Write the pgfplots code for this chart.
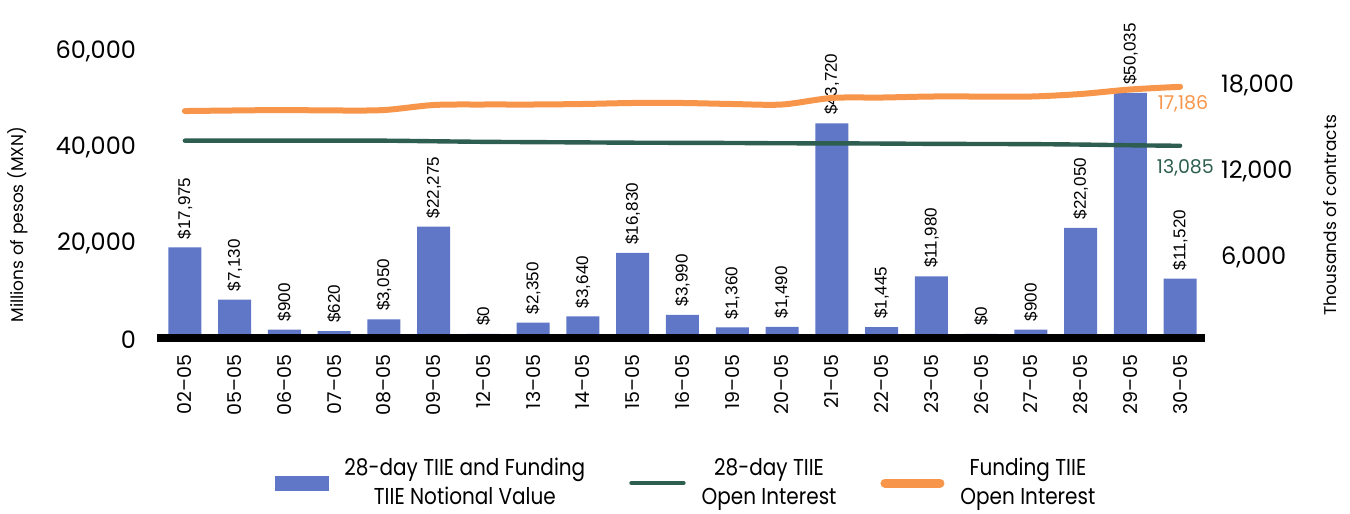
\documentclass[border=0pt]{standalone}
\usepackage{pgfplots}
\pgfplotsset{compat=1.18}
\usepackage{pgfplotstable}
\usepackage{fontspec}
\setmainfont{Poppins}
\newfontfamily\lab{Liberation Sans}
\newfontfamily\leg[FakeStretch=0.87]{Poppins}
\definecolor{barblue}{HTML}{6076C6}
\definecolor{lgreen}{HTML}{2D5E50}
\definecolor{lorange}{HTML}{F7954A}

\pgfplotstableread{
x v g o
0 17975 13440 15500
1 7130 13440 15540
2 900 13440 15570
3 620 13440 15540
4 3050 13440 15570
5 22275 13400 15920
6 0 13360 15955
7 2350 13340 15955
8 3640 13320 15990
9 16830 13300 16060
10 3990 13290 16060
11 1360 13280 15990
12 1490 13260 15955
13 43720 13255 16410
14 1445 13240 16440
15 11980 13220 16510
16 0 13210 16510
17 900 13200 16510
18 22050 13170 16685
19 50035 13120 17000
20 11520 13085 17186
}\data

\begin{document}
\begin{tikzpicture}
\path[use as bounding box] (-78.5pt,-90pt) rectangle (596.5pt,167pt);
\begin{axis}[
  at={(0,0)}, anchor=south west,
  scale only axis, width=524pt, height=151.75pt,
  xmin=-0.56, xmax=20.5, ymin=0, ymax=63000,
  axis line style={draw=none}, tick style={draw=none},
  clip=false,
  xtick={0,...,20},
  xticklabels={02--05,05--05,06--05,07--05,08--05,09--05,12--05,13--05,14--05,15--05,16--05,19--05,20--05,21--05,22--05,23--05,26--05,27--05,28--05,29--05,30--05},
  xticklabel style={rotate=90, anchor=east, font=\fontsize{9.5}{11}\selectfont, xshift=-7pt},
  ytick={0,20000,40000,60000},
  scaled y ticks=false,
  yticklabel style={font=\fontsize{12}{14}\selectfont, xshift=-7pt, yshift=-3pt},
  /pgf/number format/assume math mode=true,
  /pgf/number format/1000 sep={,},
  ylabel={Millions of pesos (MXN)},
  ylabel style={at={(axis description cs:-0.1326,0.36)}, anchor=center, font=\fontsize{8.5}{10}\selectfont},
]
\addplot[ybar, bar width=16.5pt, fill=barblue, draw=none,
  point meta=explicit,
  nodes near coords={\$\pgfmathprintnumber{\pgfplotspointmeta}},
  nodes near coords style={rotate=90, anchor=west, inner xsep=4pt, inner ysep=0pt, font=\lab\fontsize{8.5}{10}\selectfont, text=black}
] table[x=x, y=v, meta=v] {\data};
\draw[black, line width=4pt] ([yshift=-2pt]rel axis cs:0,0) -- ([yshift=-2pt]rel axis cs:1,0);
\end{axis}
\begin{axis}[
  at={(0,0)}, anchor=south west,
  scale only axis, width=524pt, height=151.75pt,
  xmin=-0.56, xmax=20.5, ymin=0, ymax=21100,
  axis x line=none, axis y line*=right,
  y axis line style={draw=none}, tick style={draw=none},
  clip=false,
  ytick={6000,12000,18000},
  scaled y ticks=false,
  yticklabel style={font=\fontsize{12}{14}\selectfont, xshift=4.5pt, yshift=-5pt},
  /pgf/number format/assume math mode=true,
  /pgf/number format/1000 sep={,},
  ylabel={Thousands of contracts},
  ylabel style={at={(axis description cs:1.1193,0.392)}, anchor=center, font=\fontsize{8.5}{10}\selectfont},
  legend columns=3,
  legend cell align=center,
  legend style={at={(0.5,-0.491)}, anchor=center, xshift=3pt, draw=none, fill=none,
    font=\leg\fontsize{11.5}{14.5}\selectfont,
    nodes={align=center},
    /tikz/every odd column/.append style={column sep=6pt},
    /tikz/every even column/.append style={column sep=20pt}},
]
\addlegendimage{legend image code/.code={\fill[barblue] (0pt,-3.5pt) rectangle (26.5pt,3.5pt);}}
\addlegendentry{28-day TIIE and Funding\\TIIE Notional Value}
\addplot[lgreen, line width=2.2pt, smooth, line cap=round,
  legend image code/.code={\draw[lgreen, line width=2.2pt, line cap=round] (0pt,0pt) -- (26pt,0pt);}]
  table[x=x, y=g] {\data}
  node[pos=1, anchor=north west, xshift=-16pt, yshift=-2.5pt, font=\fontsize{9.5}{11}\selectfont, text=lgreen] {13,085};
\addlegendentry{28-day TIIE\\Open Interest}
\addplot[lorange, line width=3pt, smooth, line cap=round,
  legend image code/.code={\draw[lorange, line width=4.5pt, line cap=round] (0pt,0pt) -- (27.5pt,0pt);}]
  table[x=x, y=o] {\data}
  node[pos=1, anchor=north west, xshift=-16pt, yshift=0.5pt, font=\fontsize{9.5}{11}\selectfont, text=lorange] {17,186};
\addlegendentry{Funding TIIE\\Open Interest}
\end{axis}
\end{tikzpicture}
\end{document}
